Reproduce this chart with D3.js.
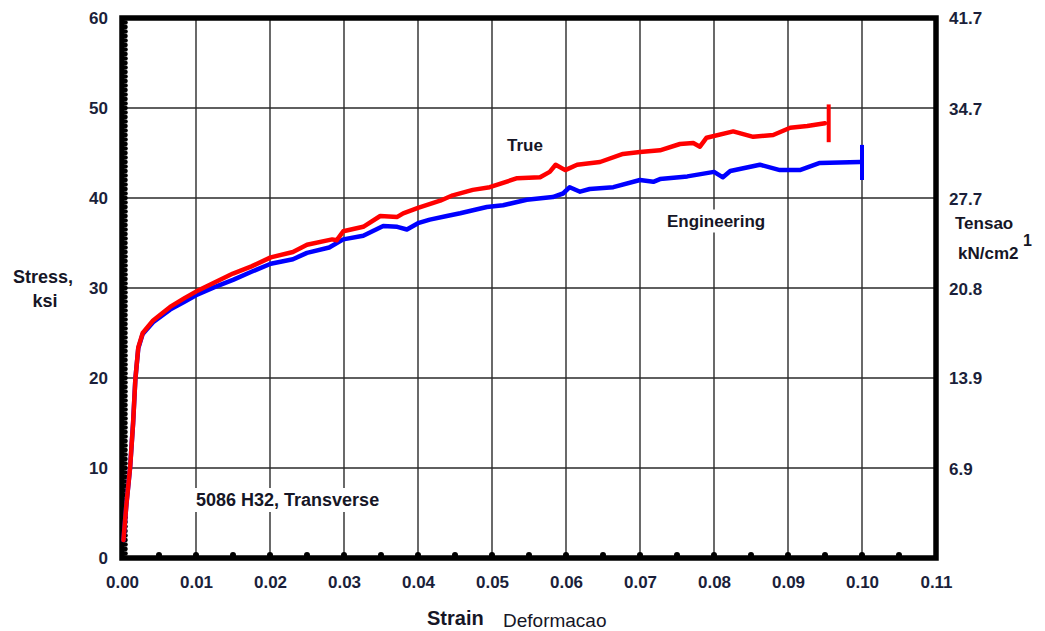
<!DOCTYPE html>
<html>
<head>
<meta charset="utf-8">
<script src="https://cdn.jsdelivr.net/npm/d3@7"></script>
<style>
  html, body { margin: 0; padding: 0; background: #fff; }
  svg { display: block; }
  text { font-family: "Liberation Sans", Arial, sans-serif; }
</style>
</head>
<body>
<svg id="chart" width="1045" height="631"></svg>
<script>
// Tensile test, 5086 H32 transverse: true and engineering stress-strain curves
const trueStrain = [0.0002,0.0006,0.0011,0.0015,0.0018,0.0022,0.0028,0.0042,0.0065,0.0085,0.0100,0.0125,0.0150,0.0175,0.0201,0.0231,0.0250,0.0284,0.0290,0.0299,0.0326,0.0349,0.0372,0.0380,0.0400,0.0430,0.0447,0.0474,0.0497,0.0534,0.0565,0.0578,0.0586,0.0599,0.0615,0.0646,0.0677,0.0700,0.0727,0.0754,0.0772,0.0781,0.0790,0.0826,0.0853,0.0880,0.0903,0.0926,0.0950];
const trueStress = [2.0,6.0,10.1,15.0,19.8,23.4,25.0,26.4,27.9,28.9,29.6,30.6,31.6,32.4,33.4,34.0,34.8,35.4,35.3,36.3,36.8,38.0,37.9,38.3,38.9,39.7,40.3,40.9,41.2,42.2,42.3,42.9,43.7,43.1,43.7,44.0,44.9,45.1,45.3,46.0,46.1,45.7,46.7,47.4,46.8,47.0,47.8,48.0,48.3];

const engStrain = [0.0002,0.0006,0.0011,0.0015,0.0018,0.0022,0.0028,0.0042,0.0065,0.0085,0.0100,0.0125,0.0150,0.0175,0.0201,0.0231,0.0250,0.0280,0.0299,0.0326,0.0353,0.0372,0.0385,0.0400,0.0416,0.0439,0.0457,0.0493,0.0515,0.0547,0.0582,0.0596,0.0605,0.0619,0.0632,0.0664,0.0700,0.0718,0.0727,0.0764,0.0800,0.0812,0.0822,0.0862,0.0889,0.0916,0.0943,0.0997];
const engStress = [2.0,6.0,10.1,15.0,19.8,23.3,24.9,26.2,27.6,28.5,29.2,30.1,30.9,31.8,32.7,33.2,33.9,34.5,35.4,35.8,36.9,36.8,36.5,37.2,37.6,38.0,38.3,39.0,39.2,39.8,40.1,40.5,41.2,40.7,41.0,41.2,42.0,41.8,42.1,42.4,42.9,42.3,43.0,43.7,43.1,43.1,43.9,44.0];

// fracture markers: strain, low stress, high stress
const trueBreak = [0.0955, 46.2, 50.4];
const engBreak  = [0.1000, 42.0, 45.9];

const strainTicks = [0,0.01,0.02,0.03,0.04,0.05,0.06,0.07,0.08,0.09,0.10,0.11];
const ksiTicks = [0,10,20,30,40,50,60];
const kNTicks = [6.9,13.9,20.8,27.7,34.7,41.7];

const svg = d3.select("#chart");
const L = 122, R = 936, T = 18, B = 558;

const x = d3.scaleLinear().domain([0, 0.11]).range([L, R]);
const y = d3.scaleLinear().domain([0, 60]).range([B, T]);
const yR = d3.scaleLinear().domain([0, 41.7]).range([B, T]);

// grid
const grid = svg.append("g").attr("stroke", "#2a2a2a").attr("stroke-width", 1.4);
grid.selectAll("line.v").data(strainTicks.slice(1, -1)).join("line")
  .attr("x1", d => x(d)).attr("x2", d => x(d)).attr("y1", T).attr("y2", B);
grid.selectAll("line.h").data(ksiTicks.slice(1, -1)).join("line")
  .attr("x1", L).attr("x2", R).attr("y1", d => y(d)).attr("y2", d => y(d));

// labels with a white backing that interrupts the grid
function boxedLabel(txt, lx, ly, size, weight) {
  const g = svg.append("g");
  const t = g.append("text").attr("x", lx).attr("y", ly)
    .attr("dominant-baseline", "central")
    .attr("font-size", size).attr("font-weight", weight).attr("fill", "#161626").text(txt);
  const bb = t.node().getBBox();
  g.insert("rect", "text").attr("x", bb.x - 4).attr("y", bb.y - 2)
    .attr("width", bb.width + 8).attr("height", bb.height + 4).attr("fill", "#fff");
}
boxedLabel("5086 H32, Transverse", 196, 500, 18, "bold");
boxedLabel("Engineering", 667, 221, 17, "bold");
boxedLabel("True", 507, 145, 17, "bold");

// frame
svg.append("rect").attr("x", L).attr("y", T).attr("width", R - L).attr("height", B - T)
  .attr("fill", "none").attr("stroke", "#000").attr("stroke-width", 5.5);

// minor tick bumps along the left and bottom edges
const leftMinor = d3.range(1, 120).map(i => i * 0.5);
svg.append("g").selectAll("circle").data(leftMinor).join("circle")
  .attr("cx", L + 3.5).attr("cy", d => y(d)).attr("r", 2.3).attr("fill", "#000");
const bottomMinor = d3.range(1, 22).map(i => i * 0.005);
svg.append("g").selectAll("circle").data(bottomMinor).join("circle")
  .attr("cx", d => x(d)).attr("cy", B - 3).attr("r", 3).attr("fill", "#000");

// curves
const line = d3.line().x(d => x(d[0])).y(d => y(d[1]));
const engPts = engStrain.map((s, i) => [s, engStress[i]]);
const truePts = trueStrain.map((s, i) => [s, trueStress[i]]);

svg.append("path").datum(engPts).attr("d", line)
  .attr("fill", "none").attr("stroke", "#0000ff").attr("stroke-width", 4.5)
  .attr("stroke-linejoin", "round").attr("stroke-linecap", "round");
svg.append("path").datum(truePts).attr("d", line)
  .attr("fill", "none").attr("stroke", "#ff0000").attr("stroke-width", 4.5)
  .attr("stroke-linejoin", "round").attr("stroke-linecap", "round");

[[engBreak, "#0000ff"], [trueBreak, "#ff0000"]].forEach(([b, c]) => {
  svg.append("line").attr("x1", x(b[0])).attr("x2", x(b[0]))
    .attr("y1", y(b[1])).attr("y2", y(b[2]))
    .attr("stroke", c).attr("stroke-width", 4);
});

// axis tick labels
const tickFont = g => g.selectAll("text")
  .attr("font-size", 17).attr("font-weight", "bold").attr("fill", "#1b1f3a")
  .attr("font-family", "'Liberation Sans', Arial, sans-serif");

svg.append("g").attr("transform", `translate(${L - 14},0)`)
  .call(d3.axisLeft(y).tickValues(ksiTicks).tickSize(0).tickPadding(0).tickFormat(d3.format("d")))
  .call(g => g.select(".domain").remove()).call(tickFont);

svg.append("g").attr("transform", `translate(0,${B + 18})`)
  .call(d3.axisBottom(x).tickValues(strainTicks).tickSize(0).tickPadding(0).tickFormat(d3.format(".2f")))
  .call(g => g.select(".domain").remove()).call(tickFont);

svg.append("g").attr("transform", `translate(${R + 13},0)`)
  .call(d3.axisRight(yR).tickValues(kNTicks).tickSize(0).tickPadding(0).tickFormat(d3.format(".1f")))
  .call(g => g.select(".domain").remove()).call(tickFont);

// axis titles
const title = (txt, tx, ty, size, weight, anchor) => svg.append("text")
  .attr("x", tx).attr("y", ty).attr("dominant-baseline", "central")
  .attr("text-anchor", anchor || "start")
  .attr("font-size", size).attr("font-weight", weight).attr("fill", "#161626").text(txt);

title("Stress,", 43, 277, 18, "bold", "middle");
title("ksi", 45, 301, 18, "bold", "middle");
title("Tensao", 955, 223, 17, "bold");
title("kN/cm2", 958, 253, 17, "bold");
title("1", 1023, 240, 16, "bold");
title("Strain", 427, 618, 20, "bold");
title("Deformacao", 503, 620, 19, "normal");
</script>
</body>
</html>
